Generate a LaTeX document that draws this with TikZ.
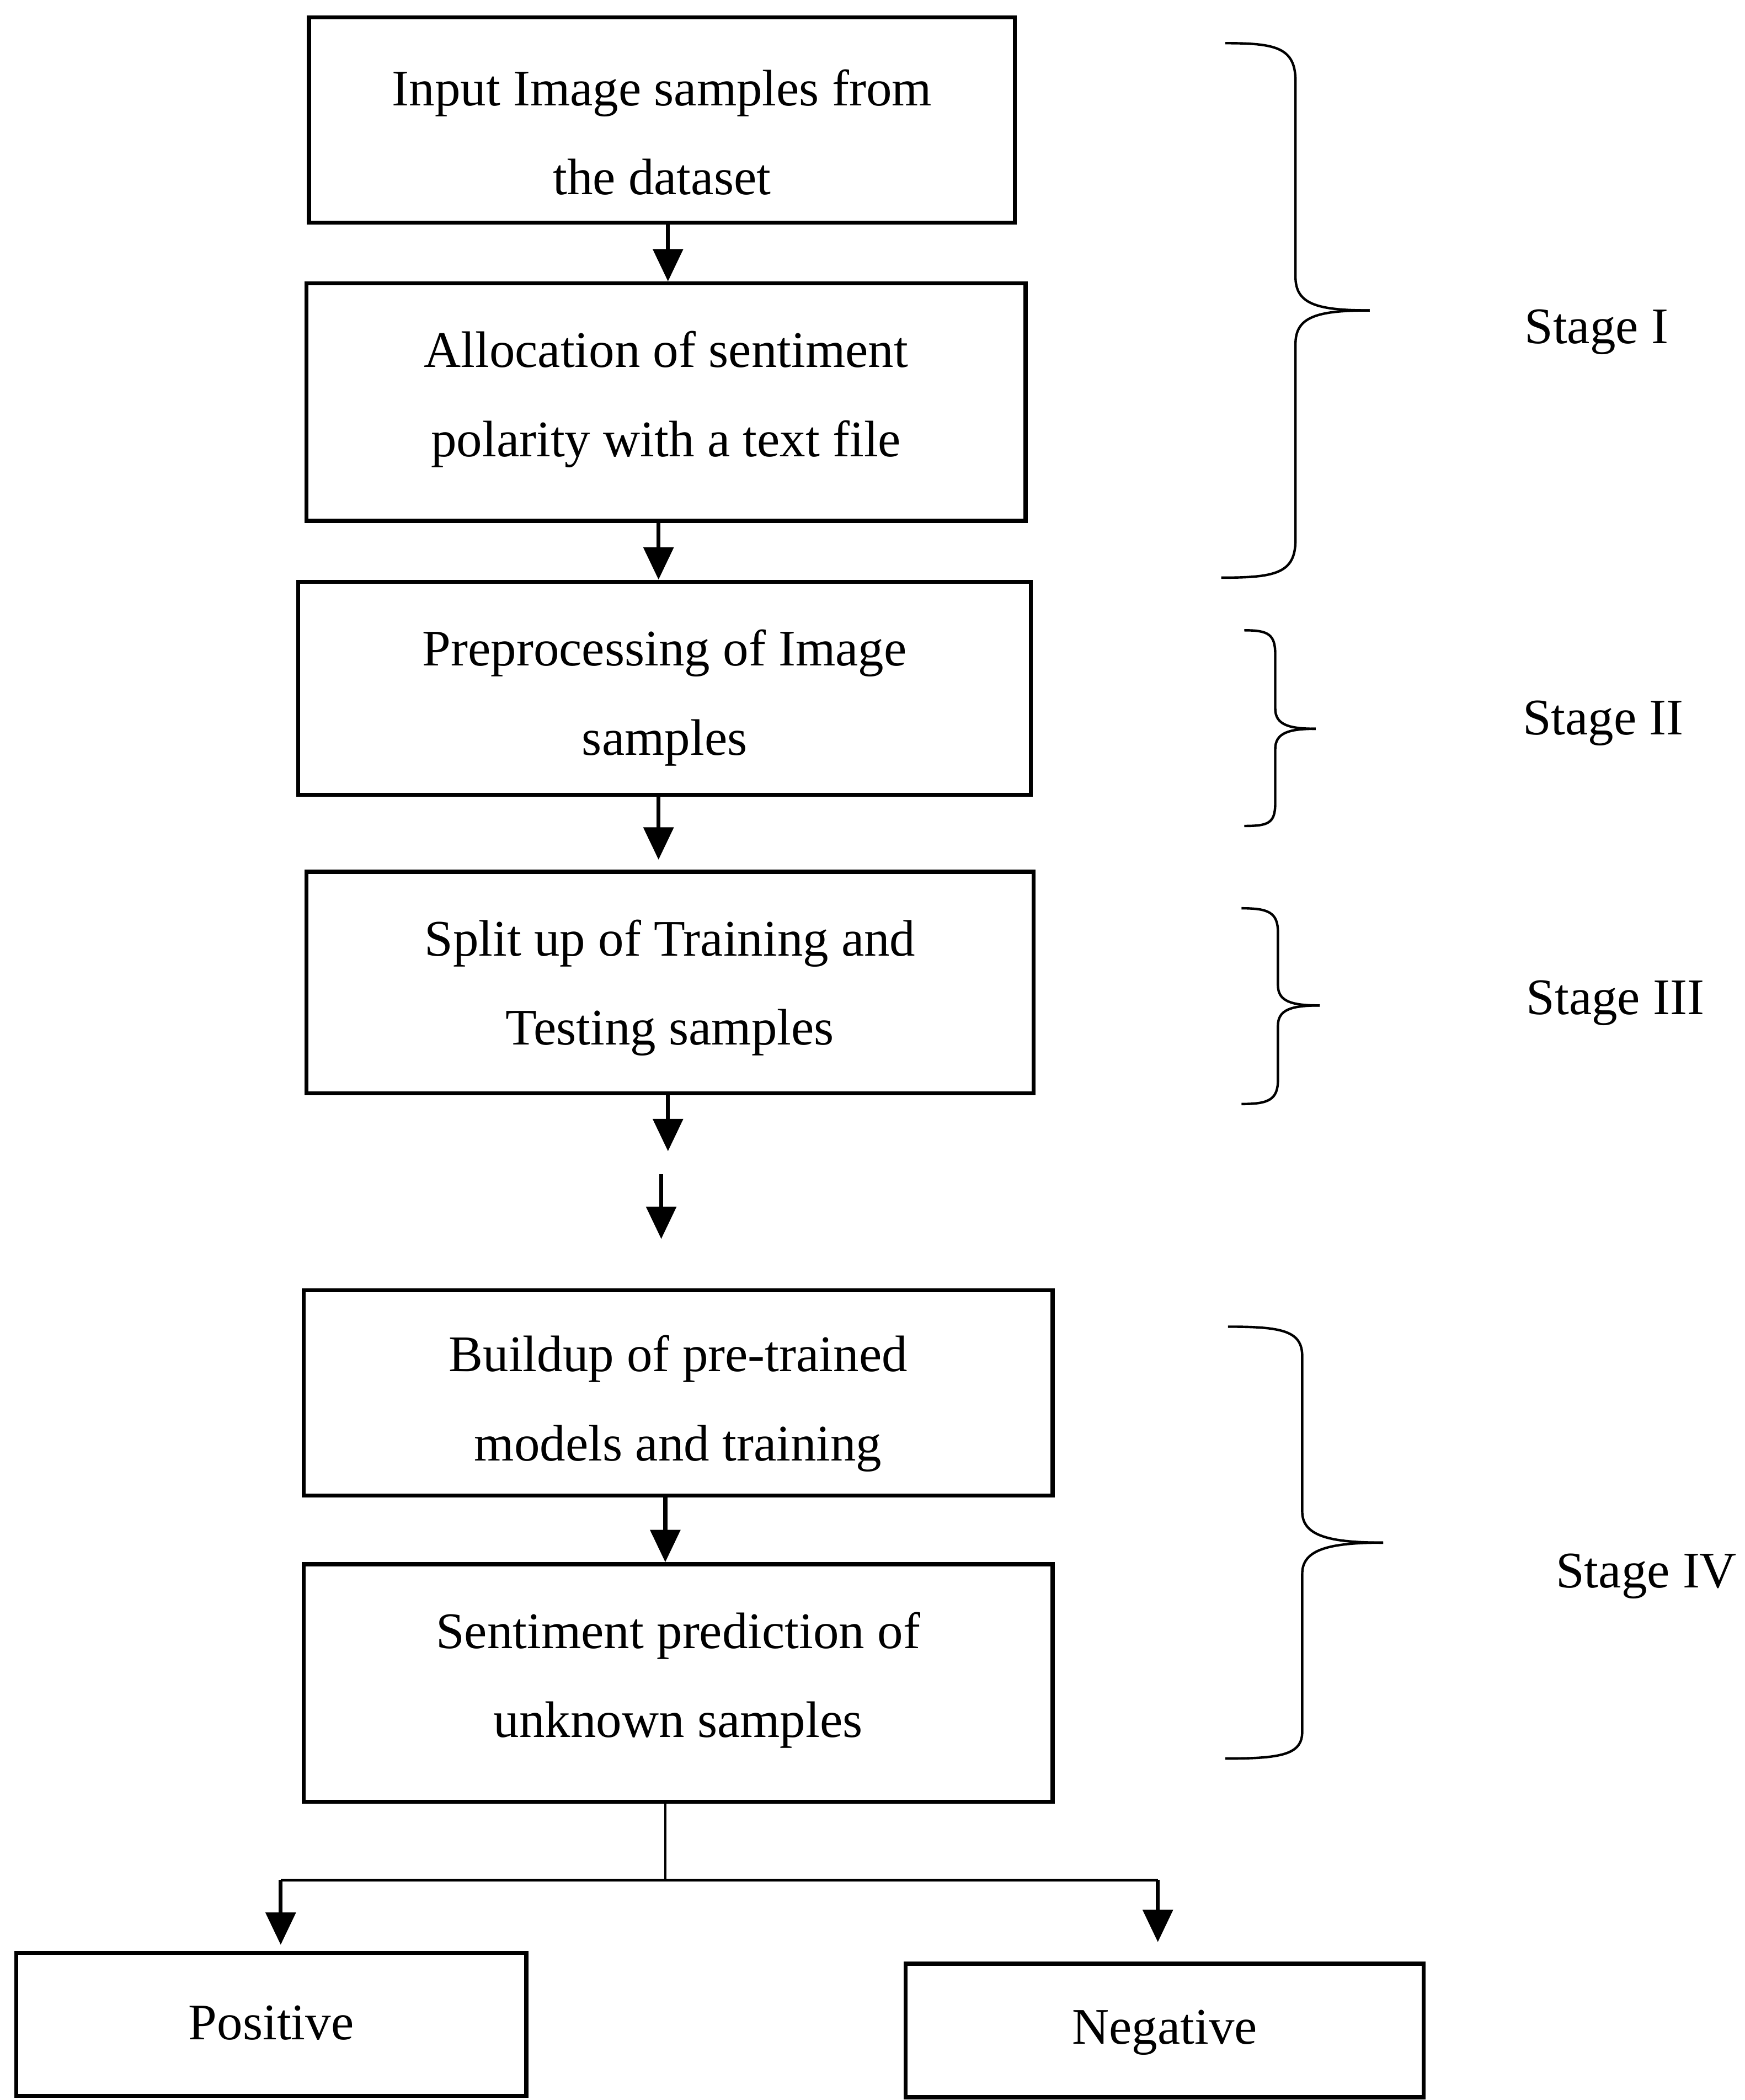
\documentclass[tikz,border=0pt]{standalone}
\usepackage{fontspec}
\setmainfont{Liberation Serif}
\usetikzlibrary{arrows.meta}
\begin{document}
\begin{tikzpicture}[x=0.5pt,y=-0.5pt,
  box/.style={draw,line width=1.5pt,inner sep=0pt},
  txt/.style={font=\fontsize{19}{33}\selectfont,align=center},
  arr/.style={line width=1.5pt,-{Triangle[length=12pt,width=11pt]}},
  br/.style={line width=0.9pt},
  lab/.style={font=\fontsize{19}{22}\selectfont}]
\useasboundingbox (0,0) rectangle (1293,1556);
\node[box,minimum width=261.5pt,minimum height=76pt] (b1) at (490.5,89) {};
\node[txt] at (490.5,98) {Input Image samples from\\the dataset};
\node[box,minimum width=266.5pt,minimum height=88pt] (b2) at (493.5,298) {};
\node[txt] at (493.5,296) {Allocation of sentiment\\polarity with a text file};
\node[box,minimum width=271.5pt,minimum height=79pt] (b3) at (492.5,510) {};
\node[txt] at (492.5,517) {Preprocessing of Image\\samples};
\node[box,minimum width=269.5pt,minimum height=82pt] (b4) at (496.5,728) {};
\node[txt] at (496.5,732) {Split up of Training and\\Testing samples};
\node[box,minimum width=277.5pt,minimum height=76pt] (b5) at (502.5,1032) {};
\node[txt] at (502.5,1040) {Buildup of pre-trained\\models and training};
\node[box,minimum width=277.5pt,minimum height=88pt] (b6) at (502.5,1247) {};
\node[txt] at (502.5,1245) {Sentiment prediction of\\unknown samples};
\node[box,minimum width=189pt,minimum height=53pt] (pos) at (201,1500) {};
\node[txt] at (201,1499) {Positive};
\node[box,minimum width=192pt,minimum height=49.5pt] (neg) at (863,1504.5) {};
\node[txt] at (863,1506) {Negative};

\draw[arr] (b1.south -| 495,0) -- (b2.north -| 495,0);
\draw[arr] (b2.south -| 488,0) -- (b3.north -| 488,0);
\draw[arr] (b3.south -| 488,0) -- (488,637);
\draw[arr] (b4.south -| 495,0) -- (495,853);
\coordinate (fa) at (490,870); \coordinate (fb) at (490,918);
\draw[arr] (fa) -- (fb);
\draw[arr] (b5.south -| 493,0) -- (b6.north -| 493,0);
\coordinate (split) at (493,1393);
\draw[line width=0.9pt] (b6.south -| 493,0) -- (split);
\coordinate (lp) at (208,1393); \coordinate (rp) at (858,1393);
\draw[line width=0.9pt] (lp) -- (rp);
\draw[arr] (lp) -- (208,1441);
\draw[arr] (rp) -- (858,1439);

% braces
\draw[br] (908,32) .. controls (945,32) and (960,35) .. (960,60) -- (960,205)
  .. controls (960,225) and (975,230) .. (1015,230);
\draw[br] (1015,230) .. controls (975,230) and (960,235) .. (960,255) -- (960,400)
  .. controls (960,425) and (945,428) .. (905,428);
\draw[br] (922,467) .. controls (940,467) and (945,470) .. (945,485) -- (945,525)
  .. controls (945,537) and (955,540) .. (975,540);
\draw[br] (975,540) .. controls (955,540) and (945,543) .. (945,555) -- (945,595)
  .. controls (945,610) and (940,612) .. (922,612);
\draw[br] (920,673) .. controls (940,673) and (947,676) .. (947,691) -- (947,730)
  .. controls (947,742) and (957,745) .. (978,745);
\draw[br] (978,745) .. controls (957,745) and (947,748) .. (947,760) -- (947,800)
  .. controls (947,815) and (940,818) .. (920,818);
\draw[br] (910,983) .. controls (950,983) and (965,986) .. (965,1005) -- (965,1120)
  .. controls (965,1138) and (985,1143) .. (1025,1143);
\draw[br] (1025,1143) .. controls (985,1143) and (965,1148) .. (965,1166) -- (965,1283)
  .. controls (965,1300) and (950,1303) .. (908,1303);

\node[lab] (s1) at (1183,246) {Stage I};
\node[lab] (s2) at (1188,536) {Stage II};
\node[lab] (s3) at (1197,743) {Stage III};
\node[lab] (s4) at (1220,1168) {Stage IV};
\end{tikzpicture}
\end{document}
